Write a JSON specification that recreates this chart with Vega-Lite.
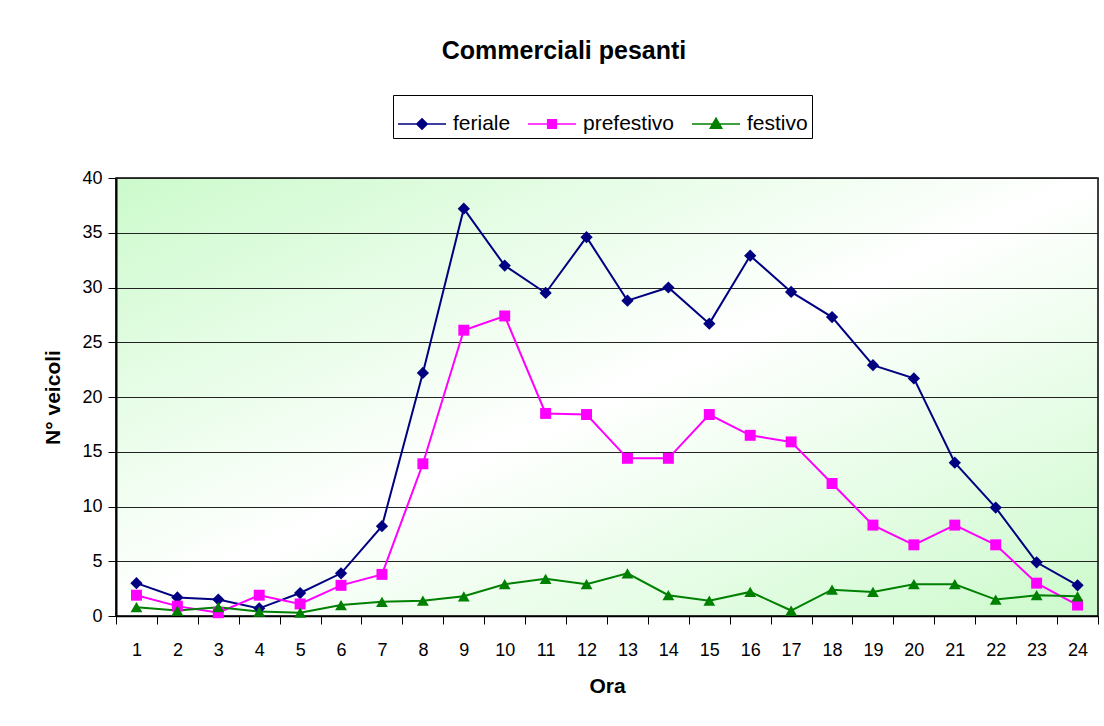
{
  "$schema": "https://vega.github.io/schema/vega-lite/v6.json",
  "width": 982,
  "height": 438,
  "autosize": "none",
  "padding": {"left": 116, "top": 178, "right": 6, "bottom": 110},
  "background": "white",
  "title": {
    "text": "Commerciali pesanti",
    "font": "Liberation Sans",
    "fontSize": 25,
    "fontWeight": "bold",
    "color": "black",
    "anchor": "middle",
    "dx": -43,
    "offset": 31
  },
  "config": {
    "font": "Liberation Sans",
    "view": {
      "stroke": "black",
      "strokeWidth": 1.5,
      "fill": {
        "gradient": "linear",
        "x1": 0, "y1": 0, "x2": 1, "y2": 1,
        "stops": [
          {"offset": 0, "color": "#ccfacc"},
          {"offset": 0.5, "color": "#ffffff"},
          {"offset": 1, "color": "#ccfacc"}
        ]
      }
    }
  },
  "data": {
    "values": [
      {"ora": 1, "serie": "feriale", "n": 3.0}, {"ora": 2, "serie": "feriale", "n": 1.7}, {"ora": 3, "serie": "feriale", "n": 1.5}, {"ora": 4, "serie": "feriale", "n": 0.7},
      {"ora": 5, "serie": "feriale", "n": 2.1}, {"ora": 6, "serie": "feriale", "n": 3.9}, {"ora": 7, "serie": "feriale", "n": 8.2}, {"ora": 8, "serie": "feriale", "n": 22.2},
      {"ora": 9, "serie": "feriale", "n": 37.2}, {"ora": 10, "serie": "feriale", "n": 32.0}, {"ora": 11, "serie": "feriale", "n": 29.5}, {"ora": 12, "serie": "feriale", "n": 34.6},
      {"ora": 13, "serie": "feriale", "n": 28.8}, {"ora": 14, "serie": "feriale", "n": 30.0}, {"ora": 15, "serie": "feriale", "n": 26.7}, {"ora": 16, "serie": "feriale", "n": 32.9},
      {"ora": 17, "serie": "feriale", "n": 29.6}, {"ora": 18, "serie": "feriale", "n": 27.3}, {"ora": 19, "serie": "feriale", "n": 22.9}, {"ora": 20, "serie": "feriale", "n": 21.7},
      {"ora": 21, "serie": "feriale", "n": 14.0}, {"ora": 22, "serie": "feriale", "n": 9.9}, {"ora": 23, "serie": "feriale", "n": 4.9}, {"ora": 24, "serie": "feriale", "n": 2.8},
      {"ora": 1, "serie": "prefestivo", "n": 1.9}, {"ora": 2, "serie": "prefestivo", "n": 0.9}, {"ora": 3, "serie": "prefestivo", "n": 0.3}, {"ora": 4, "serie": "prefestivo", "n": 1.9},
      {"ora": 5, "serie": "prefestivo", "n": 1.1}, {"ora": 6, "serie": "prefestivo", "n": 2.8}, {"ora": 7, "serie": "prefestivo", "n": 3.8}, {"ora": 8, "serie": "prefestivo", "n": 13.9},
      {"ora": 9, "serie": "prefestivo", "n": 26.1}, {"ora": 10, "serie": "prefestivo", "n": 27.4}, {"ora": 11, "serie": "prefestivo", "n": 18.5}, {"ora": 12, "serie": "prefestivo", "n": 18.4},
      {"ora": 13, "serie": "prefestivo", "n": 14.4}, {"ora": 14, "serie": "prefestivo", "n": 14.4}, {"ora": 15, "serie": "prefestivo", "n": 18.4}, {"ora": 16, "serie": "prefestivo", "n": 16.5},
      {"ora": 17, "serie": "prefestivo", "n": 15.9}, {"ora": 18, "serie": "prefestivo", "n": 12.1}, {"ora": 19, "serie": "prefestivo", "n": 8.3}, {"ora": 20, "serie": "prefestivo", "n": 6.5},
      {"ora": 21, "serie": "prefestivo", "n": 8.3}, {"ora": 22, "serie": "prefestivo", "n": 6.5}, {"ora": 23, "serie": "prefestivo", "n": 3.0}, {"ora": 24, "serie": "prefestivo", "n": 1.0},
      {"ora": 1, "serie": "festivo", "n": 0.8}, {"ora": 2, "serie": "festivo", "n": 0.5}, {"ora": 3, "serie": "festivo", "n": 0.8}, {"ora": 4, "serie": "festivo", "n": 0.4},
      {"ora": 5, "serie": "festivo", "n": 0.3}, {"ora": 6, "serie": "festivo", "n": 1.0}, {"ora": 7, "serie": "festivo", "n": 1.3}, {"ora": 8, "serie": "festivo", "n": 1.4},
      {"ora": 9, "serie": "festivo", "n": 1.8}, {"ora": 10, "serie": "festivo", "n": 2.9}, {"ora": 11, "serie": "festivo", "n": 3.4}, {"ora": 12, "serie": "festivo", "n": 2.9},
      {"ora": 13, "serie": "festivo", "n": 3.9}, {"ora": 14, "serie": "festivo", "n": 1.9}, {"ora": 15, "serie": "festivo", "n": 1.4}, {"ora": 16, "serie": "festivo", "n": 2.2},
      {"ora": 17, "serie": "festivo", "n": 0.5}, {"ora": 18, "serie": "festivo", "n": 2.4}, {"ora": 19, "serie": "festivo", "n": 2.2}, {"ora": 20, "serie": "festivo", "n": 2.9},
      {"ora": 21, "serie": "festivo", "n": 2.9}, {"ora": 22, "serie": "festivo", "n": 1.5}, {"ora": 23, "serie": "festivo", "n": 1.9}, {"ora": 24, "serie": "festivo", "n": 1.8}
    ]
  },
  "encoding": {
    "x": {
      "field": "ora",
      "type": "ordinal",
      "title": "Ora",
      "scale": {"type": "band", "paddingInner": 0, "paddingOuter": 0},
      "axis": {
        "labelAngle": 0,
        "labelFontSize": 18,
        "labelColor": "black",
        "labelPadding": 17,
        "tickBand": "extent",
        "tickSize": 8,
        "tickColor": "black",
        "domainColor": "black",
        "domainWidth": 1.5,
        "titleFontSize": 21,
        "titleFontWeight": "bold",
        "titleColor": "black",
        "titlePadding": 16,
        "grid": false
      }
    },
    "y": {
      "field": "n",
      "type": "quantitative",
      "title": "N° veicoli",
      "scale": {"domain": [0, 40], "nice": false},
      "axis": {
        "values": [0, 5, 10, 15, 20, 25, 30, 35, 40],
        "labelFontSize": 18,
        "labelColor": "black",
        "labelPadding": 6,
        "tickSize": 8,
        "tickColor": "black",
        "domainColor": "black",
        "domainWidth": 2,
        "grid": true,
        "gridColor": "#222222",
        "gridWidth": 1,
        "gridOpacity": 1,
        "titleFontSize": 21,
        "titleFontWeight": "bold",
        "titleColor": "black",
        "titlePadding": 18
      }
    },
    "color": {
      "field": "serie",
      "type": "nominal",
      "sort": ["feriale", "prefestivo", "festivo"],
      "scale": {"domain": ["feriale", "prefestivo", "festivo"], "range": ["#000080", "#ff00ff", "#008000"]},
      "legend": {
        "orient": "none",
        "legendX": 277,
        "legendY": -83,
        "direction": "horizontal",
        "title": null,
        "strokeColor": "black",
        "padding": 4,
        "symbolSize": 2304,
        "symbolType": "M-1,0H1",
        "symbolStrokeWidth": 1.5,
        "labelFontSize": 21,
        "labelColor": "black",
        "labelOffset": 6,
        "columnPadding": 14,
        "encode": {
          "symbols": {
            "update": {
              "shape": {"signal": "datum.value === 'feriale' ? 'M-1,0H1M0,-0.22L0.22,0L0,0.22L-0.22,0Z' : datum.value === 'prefestivo' ? 'M-1,0H1M-0.18,-0.18H0.18V0.18H-0.18Z' : 'M-1,0H1M0,-0.24L0.24,0.18H-0.24Z'"},
              "fill": {"scale": "color", "field": "value"},
              "stroke": {"scale": "color", "field": "value"},
              "strokeWidth": {"value": 1.5},
              "opacity": {"value": 1}
            }
          }
        }
      }
    }
  },
  "layer": [
    {
      "mark": {"type": "line", "strokeWidth": 2}
    },
    {
      "transform": [{"filter": "datum.serie === 'feriale'"}],
      "mark": {"type": "point", "filled": true, "shape": "diamond", "size": 150, "opacity": 1}
    },
    {
      "transform": [{"filter": "datum.serie === 'prefestivo'"}],
      "mark": {"type": "point", "filled": true, "shape": "square", "size": 120, "opacity": 1}
    },
    {
      "transform": [{"filter": "datum.serie === 'festivo'"}],
      "mark": {"type": "point", "filled": true, "shape": "triangle-up", "size": 140, "opacity": 1}
    }
  ]
}
